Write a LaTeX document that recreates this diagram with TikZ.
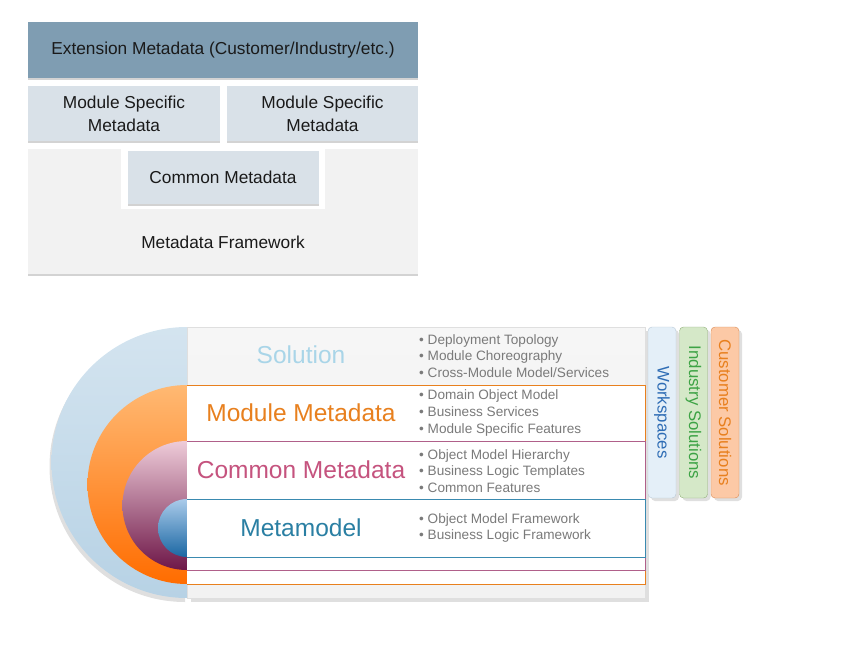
\documentclass[tikz,border=0pt]{standalone}
\usepackage{fontspec}
\setmainfont{Liberation Sans}
\usetikzlibrary{positioning,shadows,backgrounds}
\definecolor{extblue}{HTML}{7F9DB2}
\definecolor{modgray}{HTML}{D9E1E8}
\definecolor{framegray}{HTML}{F2F2F2}
\definecolor{inktext}{HTML}{1A1A1A}
\definecolor{solblue}{HTML}{A9D5E8}
\definecolor{ringblue}{HTML}{B7D2E5}
\definecolor{modorange}{HTML}{E8801E}
\definecolor{compink}{HTML}{C5537E}
\definecolor{metateal}{HTML}{2A7FA3}
\definecolor{bulletgray}{HTML}{7A7A7A}
\definecolor{wsfill}{HTML}{E4EFF8}
\definecolor{wsline}{HTML}{B8C8D6}
\definecolor{wsblue}{HTML}{2F6DB5}
\definecolor{indfill}{HTML}{D5E8C8}
\definecolor{indline}{HTML}{93B07C}
\definecolor{indgreen}{HTML}{3DA345}
\definecolor{custfill}{HTML}{FCC9A6}
\definecolor{custline}{HTML}{D98A55}
\definecolor{plum}{HTML}{6E1748}
\definecolor{plumline}{HTML}{B0608A}
\definecolor{lineblue}{HTML}{3A8AB0}
\definecolor{coreblue}{HTML}{1B67A3}
\definecolor{corelight}{HTML}{AACBEA}

\begin{document}
\begin{tikzpicture}[x=1pt,y=-1pt,
  layer/.style={inner sep=0pt,align=center,font=\fontsize{17.3}{23}\selectfont,
    text=inktext,drop shadow={opacity=0.35,shadow xshift=0pt,shadow yshift=-2pt}},
  ringname/.style={font=\fontsize{24.5}{28}\selectfont},
  bullets/.style={anchor=west,align=left,inner sep=0pt,text=bulletgray,
    font=\fontsize{13.6}{16.6}\selectfont},
  tabbox/.style={rotate=-90,rounded corners=4pt,minimum width=171pt,minimum height=28pt,
    inner sep=0pt,font=\fontsize{16.8}{18}\selectfont,
    drop shadow={opacity=0.25,shadow xshift=3pt,shadow yshift=-3pt}}
]
\useasboundingbox (0,0) rectangle (867,664);

% metadata stack
\node[layer,fill=extblue,minimum width=390pt,minimum height=56pt] (ext) at (223,50)
  {Extension Metadata (Customer/Industry/etc.)};
\node[layer,fill=modgray,minimum width=192pt,minimum height=55pt,
  below right=8pt and 0pt of ext.south west] (modA) {Module Specific\\Metadata};
\node[layer,fill=modgray,minimum width=191pt,minimum height=55pt,
  below left=8pt and 0pt of ext.south east] (modB) {Module Specific\\Metadata};
\node[layer,fill=framegray,minimum width=390pt,minimum height=125pt,
  below right=7pt and 0pt of modA.south west] (frame) {};
\node[fill=white,minimum width=204pt,minimum height=60pt,inner sep=0pt,
  below=0pt of frame.north] (gap) {};
\node[layer,fill=modgray,minimum width=191pt,minimum height=53pt,
  below=2pt of frame.north] (common) {Common Metadata};
\node[font=\fontsize{17.3}{23}\selectfont,text=inktext] (fwname) at (223,242) {Metadata Framework};

% rings
\shade[top color=ringblue!60!white,bottom color=ringblue,
  drop shadow={opacity=0.25,shadow xshift=-2pt,shadow yshift=-4pt}]
  (187,327) arc[start angle=270,end angle=90,radius=135.5] -- cycle;
\shade[top color=orange!55!white,bottom color=orange!85!red]
  (187,385) arc[start angle=270,end angle=90,radius=99.5] -- cycle;
\shade[top color=compink!30!white,bottom color=plum]
  (187,441) arc[start angle=270,end angle=90,radius=64.5] -- cycle;
\shade[top color=corelight,bottom color=coreblue]
  (187,499) arc[start angle=270,end angle=90,radius=29] -- cycle;

% layer panel
\shade[top color=framegray!70,bottom color=framegray,draw=gray!25,
  drop shadow={opacity=0.25,shadow xshift=4pt,shadow yshift=-4pt}]
  (187,327) rectangle (645,598);
\fill[white] (187,385) rectangle (645,584);
\draw[modorange] (187,385) -- (645,385) -- (645,584) -- (187,584);
\draw[plumline] (187,441) -- (645,441) -- (645,570) -- (187,570);
\draw[lineblue] (187,499) -- (645,499) -- (645,557) -- (187,557);

\node[ringname,text=solblue] (solname) at (301,355) {Solution};
\node[ringname,text=modorange] (modname) at (301,413) {Module Metadata};
\node[ringname,text=compink] (comname) at (301,470) {Common Metadata};
\node[ringname,text=metateal] (metaname) at (301,528) {Metamodel};

\node[bullets] (solitems) at (419,356) {• Deployment Topology\\• Module Choreography\\• Cross-Module Model/Services};
\node[bullets] (moditems) at (419,413) {• Domain Object Model\\• Business Services\\• Module Specific Features};
\node[bullets] (comitems) at (419,471) {• Object Model Hierarchy\\• Business Logic Templates\\• Common Features};
\node[bullets] (metaitems) at (419,528) {• Object Model Framework\\• Business Logic Framework};

% side tabs
\node[tabbox,fill=wsfill,draw=wsline,text=wsblue] (ws) at (662,412.5) {Workspaces};
\node[tabbox,fill=indfill,draw=indline,text=indgreen] (ind) at (693.5,412.5) {Industry Solutions};
\node[tabbox,fill=custfill,draw=custline,text=modorange] (cust) at (725,412.5) {Customer Solutions};
\end{tikzpicture}
\end{document}
